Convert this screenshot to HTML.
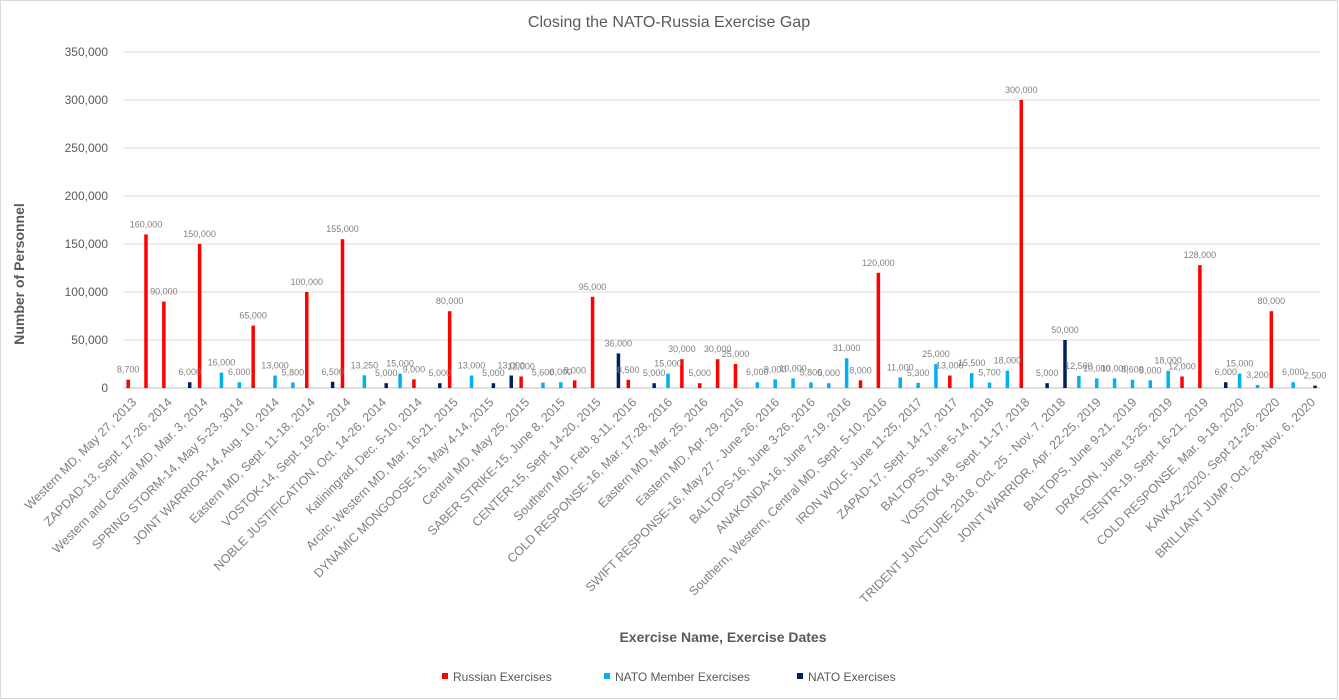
<!DOCTYPE html>
<html><head><meta charset="utf-8"><style>
body{margin:0;background:#fff;}
svg{display:block;font-family:"Liberation Sans",sans-serif;}
</style></head><body>
<svg id="chart" width="1339" height="700" viewBox="0 0 1339 700">
<rect x="0.5" y="0.5" width="1337" height="698" fill="#fff" stroke="#d9d9d9"/>
<text x="669" y="27" text-anchor="middle" font-size="16" fill="#595959">Closing the NATO-Russia Exercise Gap</text>
<text transform="translate(24,274) rotate(-90)" text-anchor="middle" font-size="14" font-weight="bold" fill="#595959">Number of Personnel</text>
<text x="723" y="642" text-anchor="middle" font-size="14" font-weight="bold" fill="#595959">Exercise Name, Exercise Dates</text>
<g id="grid"></g><g id="bars"></g><g id="labels"></g><g id="xlabels"></g>
<g font-size="12" fill="#595959">
<g><rect x="442" y="673" width="6" height="6" fill="#ff0000"/><text x="453" y="681">Russian Exercises</text></g>
<g><rect x="604" y="673" width="6" height="6" fill="#00b0f0"/><text x="615" y="681">NATO Member Exercises</text></g>
<g><rect x="797" y="673" width="6" height="6" fill="#002060"/><text x="808" y="681">NATO Exercises</text></g>
</g>
</svg>
<script>
const xLabels=["Western MD, May 27, 2013","ZAPDAD-13, Sept. 17-26, 2014","Western and Central MD, Mar. 3, 2014","SPRING STORM-14, May 5-23, 3014","JOINT WARRIOR-14, Aug. 10, 2014","Eastern MD, Sept. 11-18, 2014","VOSTOK-14, Sept. 19-26, 2014","NOBLE JUSTIFICATION, Oct. 14-26, 2014","Kaliningrad, Dec. 5-10, 2014","Arcitc, Western MD, Mar. 16-21, 2015","DYNAMIC MONGOOSE-15, May 4-14, 2015","Central MD, May 25, 2015","SABER STRIKE-15, June 8, 2015","CENTER-15, Sept. 14-20, 2015","Southern MD, Feb. 8-11, 2016","COLD RESPONSE-16, Mar. 17-28, 2016","Eastern MD, Mar. 25, 2016","Eastern MD, Apr. 29, 2016","SWIFT RESPONSE-16, May 27 - June 26, 2016","BALTOPS-16, June 3-26, 2016","ANAKONDA-16, June 7-19, 2016","Southern, Western, Central MD, Sept. 5-10, 2016","IRON WOLF, June 11-25, 2017","ZAPAD-17, Sept. 14-17, 2017","BALTOPS, June 5-14, 2018","VOSTOK 18, Sept. 11-17, 2018","TRIDENT JUNCTURE 2018, Oct. 25 - Nov. 7, 2018","JOINT WARRIOR, Apr. 22-25, 2019","BALTOPS, June 9-21, 2019","DRAGON, June 13-25, 2019","TSENTR-19, Sept. 16-21, 2019","COLD RESPONSE, Mar. 9-18, 2020","KAVKAZ-2020, Sept 21-26. 2020","BRILLIANT JUMP, Oct. 28-Nov. 6, 2020"];
// series code per category: R = Russian, M = NATO Member, N = NATO
const seriesOf=["R","R","R","N","R","M","M","R","M","M","R","N","R","M","N","M","R","N","R","M","N","N","R","M","M","R","R","N","R","N","M","R","R","R","R","M","M","M","M","M","M","R","R","M","M","M","R","M","M","M","R","N","N","M","M","M","M","M","M","R","R","N","M","M","R","M","N"];
const values=[8700,160000,90000,6000,150000,16000,6000,65000,13000,5800,100000,6500,155000,13250,5000,15000,9000,5000,80000,13000,5000,13000,12000,5600,6000,8000,95000,36000,8500,5000,15000,30000,5000,30000,25000,6000,9000,10000,5800,5000,31000,8000,120000,11000,5300,25000,13000,15500,5700,18000,300000,5000,50000,12500,10000,10000,8600,8000,18000,12000,128000,6000,15000,3200,80000,6000,2500];
const yTicks=[0,50000,100000,150000,200000,250000,300000,350000];
const NS="http://www.w3.org/2000/svg";
const n=values.length, x0=123.2, x1=1320, w=(x1-x0)/n, y0=388, yTop=52, yMax=350000;
const xC=i=>x0+w*(i+0.5);
const yS=v=>y0-(v/yMax)*(y0-yTop);
const off={R:-4,M:0,N:4}, col={R:"#ff0000",M:"#00b0f0",N:"#002060"};
const fmt=v=>v.toLocaleString("en-US");
function mk(tag,at,parent){const e=document.createElementNS(NS,tag);for(const k in at)e.setAttribute(k,at[k]);document.getElementById(parent).appendChild(e);return e;}
yTicks.forEach(t=>{
  const l=mk("line",{x1:x0,x2:x1,y1:yS(t),y2:yS(t),stroke:t===0?"#bfbfbf":"#d9d9d9","stroke-width":1},"grid");
  
  
  const tx=mk("text",{x:108,y:yS(t)+4,"text-anchor":"end","font-size":12,fill:"#595959"},"grid");
  tx.textContent=fmt(t);
  
  
});
values.forEach((v,i)=>{
  const s=seriesOf[i], cx=xC(i)+off[s];
  const r=mk("rect",{x:cx-1.75,y:yS(v),width:3.5,height:y0-yS(v),fill:col[s]},"bars");
  
  
  const t=mk("text",{x:cx,y:yS(v)-7,"text-anchor":"middle","font-size":9,fill:"#7f7f7f"},"labels");
  t.textContent=fmt(v);
  
  
});
xLabels.forEach((lab,j)=>{
  const x=xC(j*2)+5, y=403;
  const t=mk("text",{x:x,y:y,"text-anchor":"end","font-size":12.5,fill:"#7f7f7f",transform:`rotate(-45 ${x} ${y})`},"xlabels");
  t.textContent=lab;
  
  
});
</script>
</body></html>
